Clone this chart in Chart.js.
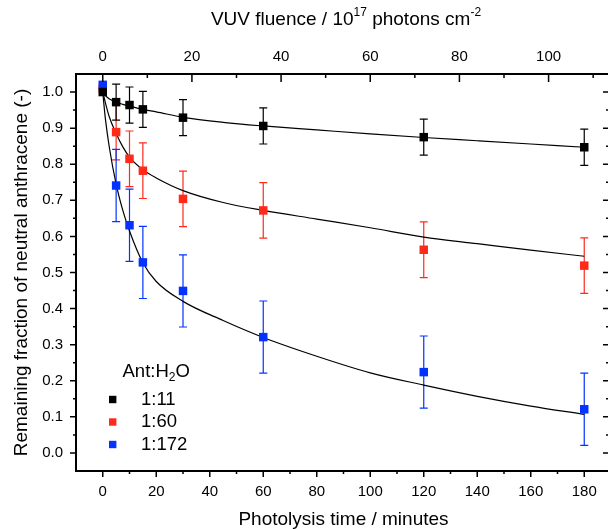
<!DOCTYPE html>
<html>
<head>
<meta charset="utf-8">
<script src="https://cdn.jsdelivr.net/npm/chart.js@4.4.0/dist/chart.umd.min.js"></script>
<style>
  html, body { margin: 0; padding: 0; background: #fff; width: 608px; height: 529px; overflow: hidden; }
  #wrap { width: 608px; height: 529px; overflow: hidden; }
</style>
</head>
<body>
<div id="wrap"><canvas id="chart" width="620" height="529"></canvas></div>
<script>
// Remaining neutral anthracene vs photolysis time, three Ant:H2O ratios
const timeMin = [0, 5, 10, 15, 30, 60, 120, 180];

const frac11 = [1.00, 0.972, 0.964, 0.952, 0.929, 0.906, 0.875, 0.847];
const err11 = [0, 0.05, 0.05, 0.05, 0.05, 0.05, 0.05, 0.05];
const frac60 = [1.01, 0.889, 0.815, 0.782, 0.704, 0.672, 0.563, 0.519];
const err60 = [0, 0.077, 0.077, 0.077, 0.077, 0.077, 0.077, 0.077];
const frac172 = [1.02, 0.741, 0.631, 0.528, 0.449, 0.321, 0.224, 0.121];
const err172 = [0, 0.1, 0.1, 0.1, 0.1, 0.1, 0.1, 0.1];

// fitted curves
const fitTime = [0, 1, 2.5, 5, 7.5, 10, 15, 20, 30, 45, 60, 80, 100, 120, 140, 160, 180];
const fit11 = [1.0, 0.99, 0.981, 0.972, 0.966, 0.961, 0.952, 0.945, 0.930, 0.916, 0.906, 0.895, 0.884, 0.874, 0.865, 0.856, 0.847];
const fit60 = [1.0, 0.97, 0.93, 0.885, 0.848, 0.82, 0.785, 0.762, 0.727, 0.694, 0.672, 0.648, 0.624, 0.598, 0.58, 0.562, 0.545];
const fit172 = [1.0, 0.925, 0.845, 0.745, 0.672, 0.615, 0.527, 0.475, 0.42, 0.367, 0.32, 0.268, 0.222, 0.188, 0.157, 0.13, 0.107];

const seriesLabels = ['1:11', '1:60', '1:172'];
const seriesColors = ['#000000', '#ff2a1a', '#0433ff'];

const xMajor = [0, 20, 40, 60, 80, 100, 120, 140, 160, 180];
const xTickLabels = ['0', '20', '40', '60', '80', '100', '120', '140', '160', '180'];
const xMinor = [10, 30, 50, 70, 90, 110, 130, 150, 170];
const fluMajor = [0, 20, 40, 60, 80, 100];
const fluTickLabels = ['0', '20', '40', '60', '80', '100'];
const fluMinor = [10, 30, 50, 70, 90, 110];
const yMajor = [0, 0.1, 0.2, 0.3, 0.4, 0.5, 0.6, 0.7, 0.8, 0.9, 1.0];
const yTickLabels = ['0.0', '0.1', '0.2', '0.3', '0.4', '0.5', '0.6', '0.7', '0.8', '0.9', '1.0'];
const yMinor = [0.05, 0.15, 0.25, 0.35, 0.45, 0.55, 0.65, 0.75, 0.85, 0.95];

const fluencePerMin = 0.6;  // 10^17 photons cm^-2 per minute
const FONT = '"Liberation Sans", Arial, sans-serif';

const pts = (xs, ys) => xs.map((x, i) => ({ x: x, y: ys[i] }));

function fitSet(ys) {
    return {
        data: pts(fitTime, ys), showLine: true, pointRadius: 0,
        borderColor: '#000', borderWidth: 1.2, cubicInterpolationMode: 'monotone',
        order: 10
    };
}
function markSet(i, ys, errs, order) {
    return {
        label: seriesLabels[i], data: pts(timeMin, ys), errors: errs,
        pointStyle: 'rect', pointRadius: 6, borderWidth: 0,
        backgroundColor: seriesColors[i], borderColor: seriesColors[i],
        showLine: false, order: order, isMarker: true
    };
}

function partsWidth(ctx, parts) {
    let w = 0;
    parts.forEach(p => { ctx.font = p[1] + 'px ' + FONT; w += ctx.measureText(p[0]).width; });
    return w;
}
function drawParts(ctx, parts, x, y) {
    parts.forEach(p => {
        ctx.font = p[1] + 'px ' + FONT;
        ctx.fillText(p[0], x, y + p[2]);
        x += ctx.measureText(p[0]).width;
    });
}

const decor = {
    id: 'decor',
    beforeDatasetsDraw(chart) {
        const ctx = chart.ctx, ys = chart.scales.y;
        ctx.save();
        chart.data.datasets.forEach((ds, di) => {
            if (!ds.isMarker) return;
            const meta = chart.getDatasetMeta(di);
            ctx.strokeStyle = ds.borderColor;
            ctx.lineWidth = 1.2;
            meta.data.forEach((pt, i) => {
                const e = ds.errors[i];
                if (!e) return;
                const v = ds.data[i].y;
                const top = ys.getPixelForValue(v + e), bot = ys.getPixelForValue(v - e);
                ctx.beginPath();
                ctx.moveTo(pt.x, top); ctx.lineTo(pt.x, bot);
                ctx.moveTo(pt.x - 4, top); ctx.lineTo(pt.x + 4, top);
                ctx.moveTo(pt.x - 4, bot); ctx.lineTo(pt.x + 4, bot);
                ctx.stroke();
            });
        });
        ctx.restore();
    },
    afterDraw(chart) {
        const ctx = chart.ctx, a = chart.chartArea;
        const xs = chart.scales.x, x2 = chart.scales.x2, ys = chart.scales.y;
        ctx.save();
        ctx.strokeStyle = '#000';
        ctx.lineWidth = 1.5;
        ctx.beginPath();
        // bottom ticks, outward
        xMajor.forEach(v => { const p = xs.getPixelForValue(v); ctx.moveTo(p, a.bottom); ctx.lineTo(p, a.bottom + 6); });
        xMinor.forEach(v => { const p = xs.getPixelForValue(v); ctx.moveTo(p, a.bottom); ctx.lineTo(p, a.bottom + 3); });
        // top ticks, inward
        fluMajor.forEach(v => { const p = x2.getPixelForValue(v); ctx.moveTo(p, a.top); ctx.lineTo(p, a.top + 8); });
        fluMinor.forEach(v => { const p = x2.getPixelForValue(v); ctx.moveTo(p, a.top); ctx.lineTo(p, a.top + 4); });
        // left ticks outward, right ticks inward
        yMajor.forEach(v => {
            const p = ys.getPixelForValue(v);
            ctx.moveTo(a.left - 6, p); ctx.lineTo(a.left, p);
            ctx.moveTo(a.right - 8, p); ctx.lineTo(a.right, p);
        });
        yMinor.forEach(v => {
            const p = ys.getPixelForValue(v);
            ctx.moveTo(a.left - 3, p); ctx.lineTo(a.left, p);
            ctx.moveTo(a.right - 5, p); ctx.lineTo(a.right, p);
        });
        ctx.stroke();
        ctx.lineWidth = 2;
        ctx.beginPath();
        ctx.moveTo(a.right, a.top); ctx.lineTo(a.right, a.bottom);
        ctx.stroke();

        // top axis title with superscripts
        ctx.fillStyle = '#000';
        ctx.textBaseline = 'middle';
        ctx.textAlign = 'left';
        const title = [['VUV fluence / 10', 19, 0], ['17', 12, -7], [' photons cm', 19, 0], ['-2', 12, -7]];
        const w = partsWidth(ctx, title);
        drawParts(ctx, title, 346 - w / 2, 20);

        // legend
        drawParts(ctx, [['Ant:H', 18.5, 0], ['2', 12, 6], ['O', 18.5, 0]], 122.5, 372);
        ctx.font = '18.5px ' + FONT;
        seriesLabels.forEach((lab, i) => {
            const cy = 399.5 + i * 22.5;
            ctx.fillStyle = seriesColors[i];
            ctx.fillRect(109, cy - 3.7, 7.4, 7.4);
            ctx.fillStyle = '#000';
            ctx.fillText(lab, 141, cy);
        });
        ctx.restore();
    }
};

const tickFont = { family: FONT, size: 15 };

new Chart(document.getElementById('chart'), {
    type: 'scatter',
    data: {
        datasets: [
            fitSet(fit11), fitSet(fit60), fitSet(fit172),
            markSet(1, frac60, err60, 3),
            markSet(2, frac172, err172, 2),
            markSet(0, frac11, err11, 1)
        ]
    },
    options: {
        responsive: false, animation: false, devicePixelRatio: 1, events: [],
        // canvas is 620 wide; the right axis sits just past the visible 608 px
        layout: { padding: { left: 0, right: 9, top: 0, bottom: 0 } },
        plugins: { legend: { display: false }, tooltip: { enabled: false } },
        scales: {
            x: {
                type: 'linear', position: 'bottom', min: -10, max: 190,
                afterBuildTicks: s => { s.ticks = xMajor.map(v => ({ value: v })); },
                afterFit: s => { s.height = 58; },
                grid: { display: false, drawTicks: false },
                border: { display: true, color: '#000', width: 2 },
                ticks: { color: '#000', font: tickFont, padding: 12, maxRotation: 0, autoSkip: false,
                         callback: (v, i) => xTickLabels[i] },
                title: { display: true, text: 'Photolysis time / minutes', color: '#000',
                         font: { family: FONT, size: 19, lineHeight: 1 }, padding: { top: 0, bottom: -0.5 } }
            },
            x2: {
                type: 'linear', axis: 'x', position: 'top',
                min: -10 * fluencePerMin, max: 190 * fluencePerMin,
                afterBuildTicks: s => { s.ticks = fluMajor.map(v => ({ value: v })); },
                afterFit: s => { s.height = 74; },
                grid: { display: false, drawTicks: false },
                border: { display: true, color: '#000', width: 2 },
                ticks: { color: '#000', font: tickFont, padding: 8, maxRotation: 0, autoSkip: false,
                         callback: (v, i) => fluTickLabels[i] }
            },
            y: {
                type: 'linear', position: 'left', min: -0.05, max: 1.05,
                afterBuildTicks: s => { s.ticks = yMajor.map(v => ({ value: v })); },
                afterFit: s => { s.width = 76; },
                grid: { display: false, drawTicks: false },
                border: { display: true, color: '#000', width: 2 },
                ticks: { color: '#000', font: tickFont, padding: 13, autoSkip: false,
                         callback: (v, i) => yTickLabels[i] },
                title: { display: true, text: 'Remaining fraction of neutral anthracene (-)', color: '#000',
                         font: { family: FONT, size: 19, lineHeight: 1 }, padding: { top: 12.5, bottom: 0 } }
            }
        }
    },
    plugins: [decor]
});
</script>
</body>
</html>
